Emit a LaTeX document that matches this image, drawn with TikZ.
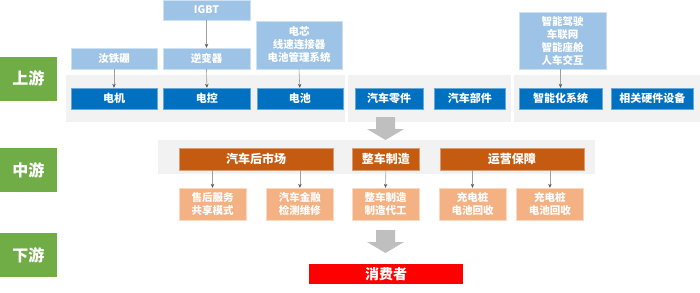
\documentclass[tikz,border=0pt]{standalone}
\usepackage{fontspec}
\setmainfont{Noto Sans CJK SC}
\usetikzlibrary{arrows.meta, positioning, calc}
\definecolor{tiergreen}{HTML}{70AD47}
\definecolor{partblue}{HTML}{0070C0}
\definecolor{srcblue}{HTML}{9DC3E6}
\definecolor{midorange}{HTML}{C55A11}
\definecolor{suborange}{HTML}{F4B183}
\definecolor{panelgray}{HTML}{F2F2F2}
\definecolor{flowgray}{HTML}{BFBFBF}
\tikzset{
  tierbox/.style={
    rectangle, minimum width=57pt, minimum height=44pt, inner sep=0pt,
    text centered, font=\fontsize{16}{18}\selectfont\bfseries,
    fill=tiergreen, text=white
  },
  partbox/.style={
    rectangle, minimum width=#1, minimum height=21pt, inner sep=0pt,
    text centered, font=\fontsize{11}{13}\selectfont\bfseries,
    fill=partblue, draw=partblue!60!white, line width=0.4pt, text=white
  },
  srcbox/.style={
    rectangle, minimum width=#1, minimum height=21pt, inner sep=0pt,
    align=center, font=\fontsize{10.5}{13}\selectfont\bfseries,
    fill=srcblue, draw=srcblue!50!white, line width=0.4pt, text=white
  },
  midbox/.style={
    rectangle, minimum width=#1, minimum height=22pt, inner sep=0pt,
    text centered, font=\fontsize{12}{14}\selectfont\bfseries,
    fill=midorange, draw=midorange!60!white, line width=0.4pt, text=white
  },
  svcbox/.style={
    rectangle, minimum width=67pt, minimum height=32pt, inner sep=0pt,
    align=center, font=\fontsize{10.5}{13.3}\selectfont\bfseries,
    fill=suborange, draw=suborange!50!white, line width=0.4pt, text=white
  },
  userbox/.style={
    rectangle, minimum width=154pt, minimum height=20pt, inner sep=0pt,
    text centered, font=\fontsize{14}{16}\selectfont\bfseries,
    fill=red, text=white
  },
  linkarrow/.style={draw=gray!75, line width=0.6pt,
    -{Stealth[length=4pt, width=3.5pt, color=black!65]}},
}
\begin{document}
\begin{tikzpicture}[x=1pt, y=-1pt]
  \useasboundingbox (0,0) rectangle (700,292);
  \fill[panelgray] (66,75) rectangle (345,122);
  \fill[panelgray] (348,75) rectangle (511,122);
  \fill[panelgray] (514,75) rectangle (700,122);
  \fill[panelgray] (158,140) rectangle (595,174);

  \node[tierbox] (up) at (28.5,78.5) {上游};
  \node[tierbox] (mid) at (28.5,170) {中游};
  \node[tierbox] (down) at (28.5,255) {下游};

  \node[partbox=86pt] (motor) at (114,98.5) {电机};
  \node[partbox=87pt, right=6pt of motor] (ctrl) {电控};
  \node[partbox=86pt, right=6pt of ctrl] (batt) {电池};
  \node[partbox=68pt] (comp) at (389,98.5) {汽车零件};
  \node[partbox=71pt, right=11pt of comp] (parts) {汽车部件};
  \node[partbox=83pt] (smart) at (560.5,98.5) {智能化系统};
  \node[partbox=82pt, right=9pt of smart] (hw) {相关硬件设备};

  \node[srcbox=86pt] (ndfeb) at (114,58.5) {汝铁硼};
  \node[srcbox=87pt] (inv) at (206.5,58.5) {逆变器};
  \node[srcbox=87pt, minimum height=20pt] (igbt) at (206.5,10) {IGBT};
  \node[srcbox=86pt, minimum height=48pt] (cell) at (299,45)
       {电芯\\线速连接器\\电池管理系统};
  \node[srcbox=87pt, minimum height=57pt] (adas) at (562.5,40.5)
       {智能驾驶\\车联网\\智能座舱\\人车交互};
  \draw[linkarrow] (ndfeb.south) -- (motor.north);
  \draw[linkarrow] (igbt.south) -- (inv.north);
  \draw[linkarrow] (inv.south) -- (ctrl.north);
  \draw[linkarrow] (cell.south) -- (batt.north);
  \draw[linkarrow] (adas.south -| smart.north) -- (smart.north);

  \node[midbox=154pt] (after) at (256,159) {汽车后市场};
  \node[midbox=67pt, right=19pt of after] (build) {整车制造};
  \node[midbox=144pt, right=20pt of build] (ops) {运营保障};
  \node[svcbox] (svc) at (212.5,204) {售后服务\\共享模式};
  \node[svcbox, right=20pt of svc] (fin) {汽车金融\\检测维修};
  \node[svcbox] (oem) at (385.5,204) {整车制造\\制造代工};
  \node[svcbox] (chg) at (472.5,204) {充电桩\\电池回收};
  \node[svcbox, right=10pt of chg] (rec) {充电桩\\电池回收};
  \draw[linkarrow] (after.south -| svc.north) -- (svc.north);
  \draw[linkarrow] (after.south -| fin.north) -- (fin.north);
  \draw[linkarrow] (build.south) -- (oem.north);
  \draw[linkarrow] (ops.south -| chg.north) -- (chg.north);
  \draw[linkarrow] (ops.south -| rec.north) -- (rec.north);

  \node[userbox] (user) at (386,274) {消费者};

  \foreach \y in {117,230}
    \fill[flowgray] (376,\y) -- (395,\y) -- (395,\y+12) -- (404,\y+12)
      -- (385.5,\y+23) -- (367,\y+12) -- (376,\y+12) -- cycle;
\end{tikzpicture}
\end{document}
